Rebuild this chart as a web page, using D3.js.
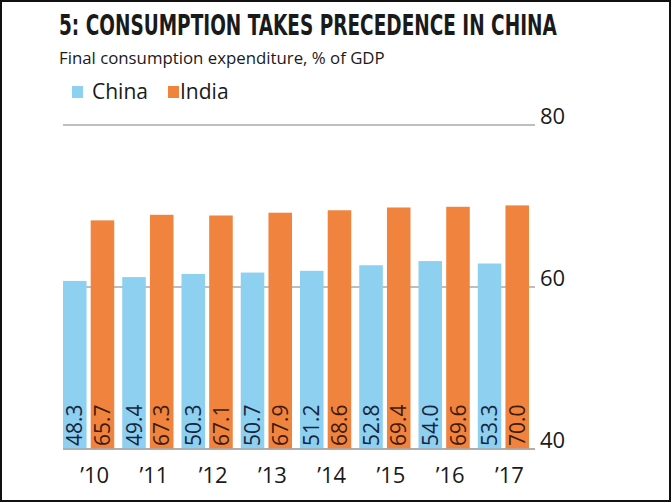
<!DOCTYPE html>
<html><head><meta charset="utf-8">
<script src="https://cdn.jsdelivr.net/npm/d3@7/dist/d3.min.js"></script>
<style>
html,body{margin:0;padding:0;background:#fff;}
svg{display:block;}
</style></head>
<body>
<svg id="chart" width="672" height="503"></svg>
<script>
const years = ["\u201910","\u201911","\u201912","\u201913","\u201914","\u201915","\u201916","\u201917"];
const seriesNames = ["China","India"];
const chinaValues = [48.3,49.4,50.3,50.7,51.2,52.8,54.0,53.3];
const indiaValues = [65.7,67.3,67.1,67.9,68.6,69.4,69.6,70.0];
const axisTicks = [40,60,80];
const titleText = "5: CONSUMPTION TAKES PRECEDENCE IN CHINA";
const subtitleText = "Final consumption expenditure, % of GDP";

const colors = {China:"#8dd0f0", India:"#f0843f"};
const labelColors = {China:"#17253f", India:"#3f1a0b"};
const sans = "'Open Sans','Noto Sans',sans-serif";

const svg = d3.select("#chart");
svg.append("rect").attr("x",1).attr("y",1).attr("width",669).attr("height",500)
  .attr("fill","#fff").attr("stroke","#111").attr("stroke-width",2);

// draw a text and squeeze it horizontally to a target width
function fittedText(x, y, str, target, attrs){
  const g = svg.append("g");
  const t = g.append("text").attr("x",0).attr("y",0).text(str);
  Object.entries(attrs).forEach(([k,v])=>t.attr(k,v));
  const w = t.node().getComputedTextLength();
  const sx = w > 0 ? target/w : 1;
  g.attr("transform",`translate(${x},${y}) scale(${sx.toFixed(4)},1)`);
  return g;
}

// title & subtitle
fittedText(59, 35, titleText, 498, {
  "font-family":"'Liberation Sans Narrow','DejaVu Sans Condensed','Roboto Condensed',sans-serif",
  "font-weight":"bold","font-size":28,"fill":"#1a1a1a"});
fittedText(59, 64, subtitleText, 326, {
  "font-family":sans,"font-size":16.5,"fill":"#1a1a1a"});

// legend
const legendX = d3.scaleOrdinal().domain(seriesNames).range([72,168]);
const lg = svg.append("g").selectAll("g").data(seriesNames).join("g")
  .attr("transform",d=>`translate(${legendX(d)},0)`);
lg.append("rect").attr("x",0).attr("y",86).attr("width",11).attr("height",12).attr("fill",d=>colors[d]);
lg.append("text").attr("x",d=>d==="China"?20:12).attr("y",99).text(d=>d)
  .attr("font-family",sans).attr("font-size",21).attr("fill","#1a1a1a");

// scales
const x0 = d3.scaleBand().domain(years).range([59,533]).paddingInner(0.135).paddingOuter(0.0675);
const x1 = d3.scaleBand().domain(seriesNames).range([0,x0.bandwidth()]).paddingInner(0.15).paddingOuter(0);
const yBar = d3.scaleLinear().domain([0,100]).range([449,101]);
const yAxis = d3.scaleLinear().domain([40,80]).range([449,125]);

// gridlines
svg.append("g").selectAll("line").data(axisTicks).join("line")
  .attr("x1",63).attr("x2",535).attr("y1",d=>yAxis(d)).attr("y2",d=>yAxis(d))
  .attr("stroke","#a8a8a8").attr("stroke-width",1.5);
svg.append("g").selectAll("text").data(axisTicks).join("text")
  .attr("x",540).attr("y",d=>yAxis(d)-1).text(d=>d)
  .attr("font-family",sans).attr("font-size",22).attr("fill","#1a1a1a");

// bars
const rows = years.map((y,i)=>({year:y, vals:[{s:"China",v:chinaValues[i]},{s:"India",v:indiaValues[i]}]}));
const groups = svg.append("g").selectAll("g").data(rows).join("g")
  .attr("transform",d=>`translate(${x0(d.year)},0)`);
groups.selectAll("rect").data(d=>d.vals).join("rect")
  .attr("x",d=>x1(d.s)).attr("width",x1.bandwidth())
  .attr("y",d=>yBar(d.v)).attr("height",d=>yBar(0)-yBar(d.v))
  .attr("fill",d=>colors[d.s]);
groups.selectAll("text").data(d=>d.vals).join("text")
  .attr("transform",d=>`translate(${x1(d.s)+x1.bandwidth()/2},${yBar(0)-3}) rotate(-90)`)
  .attr("dy","0.36em").text(d=>d.v.toFixed(1))
  .attr("font-family",sans).attr("font-size",21).attr("fill",d=>labelColors[d.s]);

// baseline
svg.append("line").attr("x1",63).attr("x2",535).attr("y1",yAxis(40)).attr("y2",yAxis(40))
  .attr("stroke","#a8a8a8").attr("stroke-width",1.5);

// category labels
svg.append("g").selectAll("text").data(years).join("text")
  .attr("x",d=>x0(d)+x0.bandwidth()/2+6).attr("y",483).attr("text-anchor","middle").text(d=>d)
  .attr("font-family",sans).attr("font-size",22).attr("fill","#1a1a1a");
</script>
</body></html>
